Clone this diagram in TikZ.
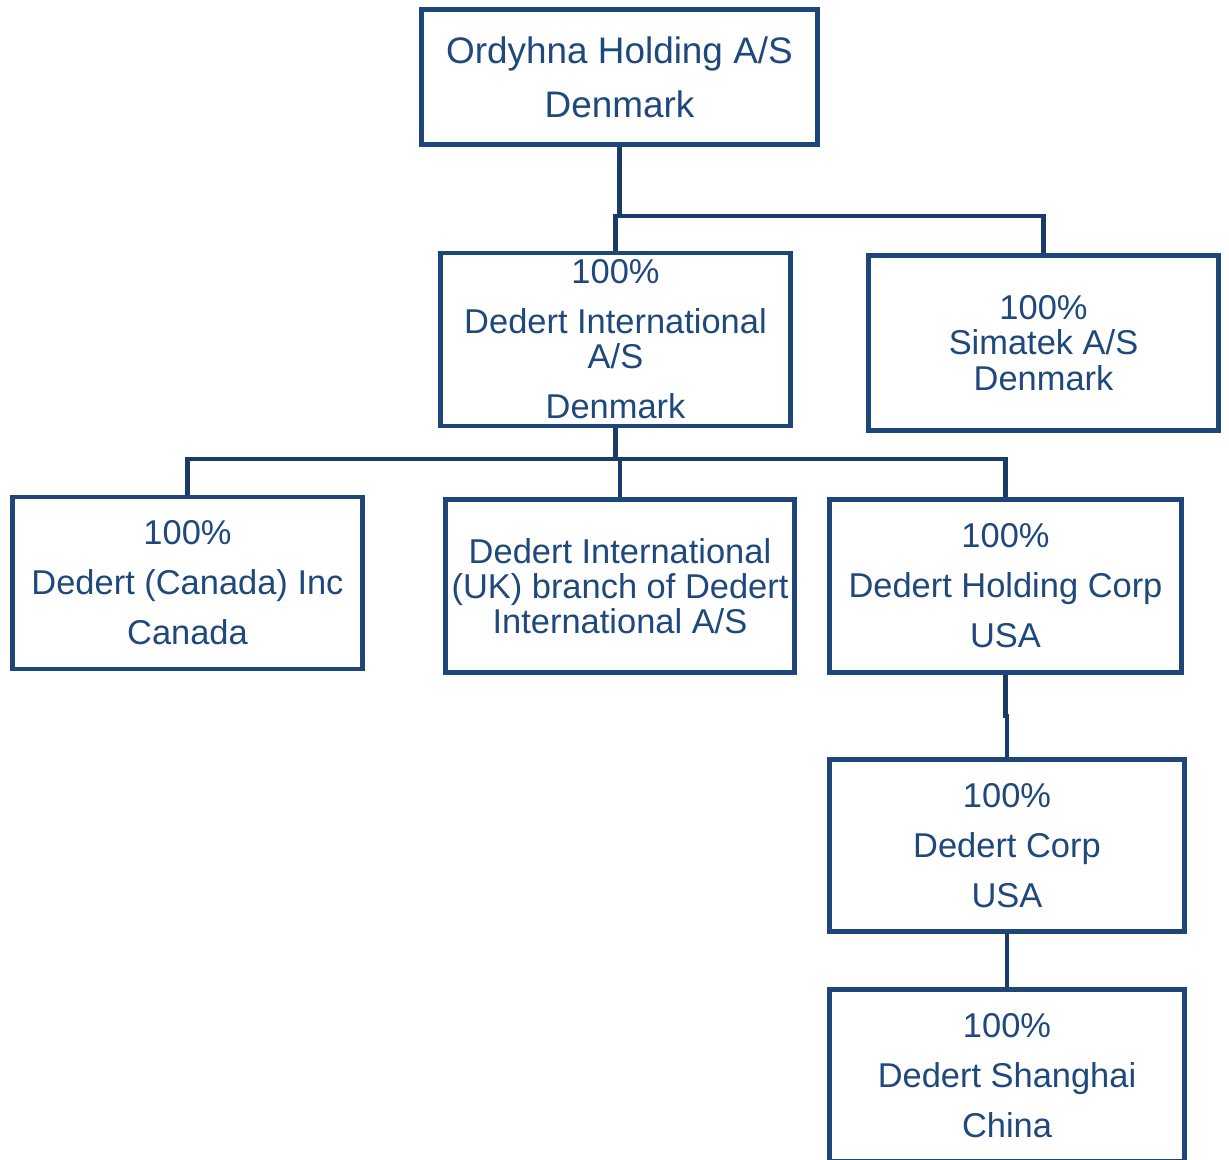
\documentclass[tikz,border=0pt]{standalone}
\usepackage{fontspec}
\setmainfont{Liberation Sans}
\usetikzlibrary{positioning, calc}
\definecolor{Frame}{HTML}{1F4678}
\definecolor{Wire}{HTML}{1A3B68}
\definecolor{Ink}{HTML}{1F497D}
\definecolor{White}{HTML}{FFFFFF}
\tikzset{
    orgbox/.style={rectangle, draw=Frame, line width=1.4pt, fill=White, text=Ink, align=center, inner sep=0pt, font=\fontsize{9.8}{10}\selectfont},
    topbox/.style={orgbox, font=\fontsize{10.5}{15.4}\selectfont},
    link/.style={draw=Wire, line width=1.4pt},
}
\begin{document}
\begin{tikzpicture}
                \useasboundingbox (0,0) rectangle (12.29,-11.60);
                % Capogruppo
                \node[topbox, minimum width=3.96cm, minimum height=1.35cm] (ordyhna) at (6.195,-0.77) {Ordyhna Holding A/S\\Denmark};
                
                % Secondo livello
                \node[orgbox, minimum width=3.50cm, minimum height=1.73cm] (dint) at (6.155,-3.395) {100\%\\[4.2pt]Dedert International\\A/S\\[4.2pt]Denmark};
                \node[orgbox, minimum width=3.50cm, minimum height=1.75cm] (simatek) at (10.435,-3.43) {100\%\\Simatek A/S\\Denmark};
                
                % Terzo livello
                \node[orgbox, minimum width=3.50cm, minimum height=1.72cm] (canada) at (1.875,-5.83) {100\%\\[4.2pt]Dedert (Canada) Inc\\[4.2pt]Canada};
                \node[orgbox, minimum width=3.49cm, minimum height=1.73cm] (ukbranch) at (6.20,-5.86) {Dedert International\\(UK) branch of Dedert\\International A/S};
                \node[orgbox, minimum width=3.52cm, minimum height=1.73cm] (holding) at (10.055,-5.86) {100\%\\[4.2pt]Dedert Holding Corp\\[4.2pt]USA};
                
                % Catena USA / Cina
                \node[orgbox, minimum width=3.55cm, minimum height=1.72cm] (corp) at (10.07,-8.455) {100\%\\[4.2pt]Dedert Corp\\[4.2pt]USA};
                \node[orgbox, minimum width=3.55cm, minimum height=1.72cm] (shanghai) at (10.07,-10.755) {100\%\\[4.2pt]Dedert Shanghai\\[4.2pt]China};
                
                % Collegamenti
                \coordinate (busa) at (0,-2.16);
                \coordinate (busb) at (0,-4.59);
                \coordinate (busc) at (0,-7.16);
                \draw[link] (ordyhna.south) -- (ordyhna.south |- busa);
                \draw[link] (dint.north) |- (simatek.north |- busa) -- (simatek.north);
                \draw[link] (dint.south) -- (dint.south |- busb);
                \draw[link] (canada.north) |- (holding.north |- busb) -- (holding.north);
                \draw[link] (ukbranch.north) -- (ukbranch.north |- busb);
                \draw[link] (holding.south) -- (holding.south |- busc) -| (corp.north);
                \draw[link] (corp.south) -- (shanghai.north);
            \end{tikzpicture}
\end{document}
